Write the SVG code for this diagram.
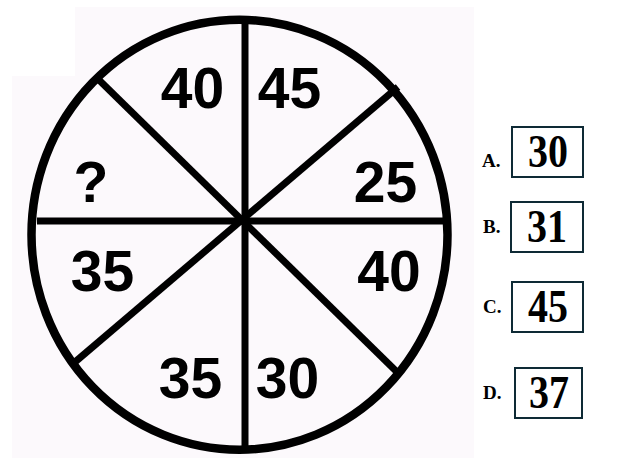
<svg xmlns="http://www.w3.org/2000/svg" width="623" height="475" viewBox="0 0 623 475">
<style>
.num{font-family:"Liberation Sans",Arial,sans-serif;font-weight:bold;font-size:57px;fill:#000;text-anchor:middle}
.lbl{font-family:"Liberation Serif","Times New Roman",serif;font-weight:bold;font-size:19px;fill:#000}
.opt{font-family:"Liberation Serif","Times New Roman",serif;font-weight:bold;font-size:46px;fill:#000;text-anchor:middle}
.box{fill:#fff;stroke:#0e2a35;stroke-width:2}
.spoke{stroke:#000;stroke-width:7;stroke-linecap:butt}
</style>
<rect width="623" height="475" fill="#fff"/>
<path d="M75,7 H474 V458 H12 V76 H75 Z" fill="#fcf9fc"/>
<g id="wheel">
<ellipse cx="239.5" cy="234.75" rx="208" ry="215" fill="none" stroke="#000" stroke-width="8.5"/>
</g>
<g id="connectors">
<line class="spoke" x1="245" y1="20" x2="245" y2="448"/>
<line class="spoke" x1="37" y1="221" x2="445" y2="221"/>
<line class="spoke" x1="98" y1="79" x2="397" y2="372"/>
<line class="spoke" x1="398" y1="87" x2="75" y2="362"/>
</g>
<g id="n-top-left"><text class="num" x="192.5" y="108">40</text></g>
<g id="n-top-right"><text class="num" x="289.5" y="108">45</text></g>
<g id="n-right-upper"><text class="num" x="385.5" y="202">25</text></g>
<g id="n-left-upper"><text class="num" x="91" y="202">?</text></g>
<g id="n-left-lower"><text class="num" x="102.5" y="291">35</text></g>
<g id="n-right-lower"><text class="num" x="389" y="291">40</text></g>
<g id="n-bottom-left"><text class="num" x="190.5" y="398">35</text></g>
<g id="n-bottom-right"><text class="num" x="287.5" y="398">30</text></g>
<g id="opt-a">
<text class="lbl" x="482" y="167">A.</text>
<rect class="box" x="512" y="127" width="71" height="50"/>
<text class="opt" x="548" y="167" textLength="40" lengthAdjust="spacingAndGlyphs">30</text>
</g>
<g id="opt-b">
<text class="lbl" x="483" y="233">B.</text>
<rect class="box" x="511" y="202" width="72" height="50"/>
<text class="opt" x="547" y="242" textLength="40" lengthAdjust="spacingAndGlyphs">31</text>
</g>
<g id="opt-c">
<text class="lbl" x="483" y="313">C.</text>
<rect class="box" x="512" y="282" width="71" height="50"/>
<text class="opt" x="548" y="322" textLength="40" lengthAdjust="spacingAndGlyphs">45</text>
</g>
<g id="opt-d">
<text class="lbl" x="483" y="399">D.</text>
<rect class="box" x="515" y="368" width="67" height="50"/>
<text class="opt" x="549" y="408" textLength="40" lengthAdjust="spacingAndGlyphs">37</text>
</g>
</svg>
